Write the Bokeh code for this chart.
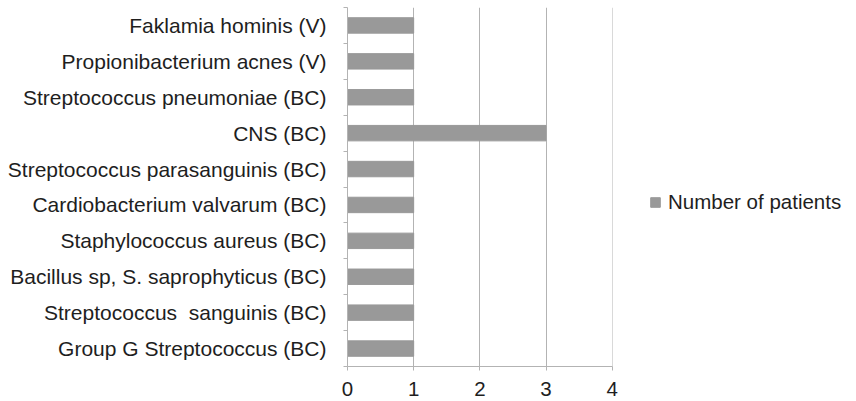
from bokeh.plotting import figure
from bokeh.models import Range1d, FixedTicker, Legend, LegendItem
from bokeh.embed import file_html
from bokeh.resources import INLINE

categories = [
    "Group G Streptococcus (BC)",
    "Streptococcus\u00a0 sanguinis (BC)",
    "Bacillus sp, S. saprophyticus (BC)",
    "Staphylococcus aureus (BC)",
    "Cardiobacterium valvarum (BC)",
    "Streptococcus parasanguinis (BC)",
    "CNS (BC)",
    "Streptococcus pneumoniae (BC)",
    "Propionibacterium acnes (V)",
    "Faklamia hominis (V)",
]
patients = [1, 1, 1, 1, 1, 1, 3, 1, 1, 1]
x_ticks = [0, 1, 2, 3, 4]
series_name = "Number of patients"

n = len(categories)
ypos = [i + 1 for i in range(n)]

FONT = "Liberation Sans"
FS = "20.5px"
TXT = "#1e1e1e"
GRAY = "#b3b3b3"

p = figure(frame_width=265, frame_height=359, output_backend="svg",
           toolbar_location=None,
           x_range=Range1d(0, 4.005), y_range=Range1d(0.5, n + 0.5),
           min_border_left=347, min_border_right=240,
           min_border_top=7, min_border_bottom=35)
p.outline_line_color = None
p.background_fill_color = "white"

r = p.hbar(y=ypos, right=patients, left=0, height=0.43, color="#999999")

# x axis
p.xaxis.ticker = FixedTicker(ticks=x_ticks)
p.xaxis.axis_line_color = GRAY
p.xaxis.major_tick_line_color = GRAY
p.xaxis.major_tick_out = 4
p.xaxis.major_tick_in = 0
p.xaxis.minor_tick_line_color = None
p.xaxis.major_label_text_font = FONT
p.xaxis.major_label_text_font_size = FS
p.xaxis.major_label_text_color = TXT
p.xaxis.major_label_standoff = 11

# y axis
p.yaxis.ticker = FixedTicker(ticks=ypos, minor_ticks=[i + 0.5 for i in range(n + 1)])
p.yaxis.major_label_overrides = {y: c for y, c in zip(ypos, categories)}
p.yaxis.axis_line_color = GRAY
p.yaxis.major_tick_line_color = None
p.yaxis.major_tick_out = 0
p.yaxis.major_tick_in = 0
p.yaxis.minor_tick_line_color = GRAY
p.yaxis.minor_tick_out = 4
p.yaxis.minor_tick_in = 0
p.yaxis.major_label_text_font = FONT
p.yaxis.major_label_text_font_size = "21px"
p.yaxis.major_label_text_color = TXT
p.yaxis.major_label_standoff = 17

p.xgrid.grid_line_color = GRAY
p.xgrid.grid_line_width = 1
p.ygrid.grid_line_color = None

legend = Legend(items=[LegendItem(label=series_name, renderers=[r])],
                location=(37, 152), border_line_color=None,
                background_fill_alpha=0, padding=0, margin=0,
                glyph_width=12, glyph_height=12, label_standoff=7,
                label_text_font=FONT, label_text_font_size=FS,
                label_text_color=TXT)
p.add_layout(legend, "right")

open("out.html", "w").write(file_html(p, INLINE))
